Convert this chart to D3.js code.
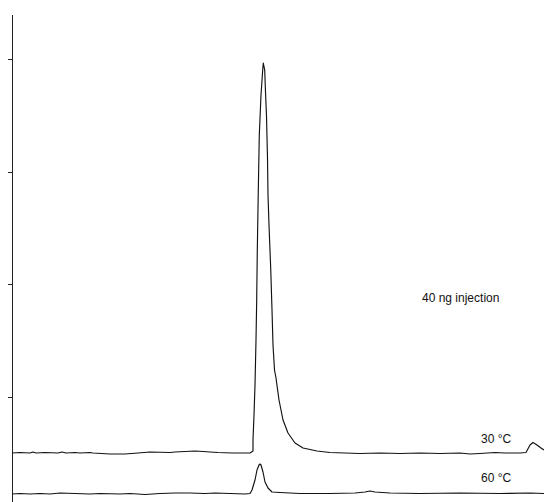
<!DOCTYPE html>
<html>
<head>
<meta charset="utf-8">
<script src="https://cdn.jsdelivr.net/npm/d3@7"></script>
<style>
  html, body { margin: 0; padding: 0; background: #fff; }
  svg { display: block; }
</style>
</head>
<body>
<div id="chart"></div>
<script>
// Retention time (min) and detector response (arbitrary units)
const time30 = [0,0.4,0.9,1.05,1.2,1.65,2.3,2.5,2.7,3.15,3.4,3.9,4.05,4.9,5.65,6.3,6.9,7.9,8.15,8.65,9.15,9.55,9.9,10.3,11,11.4,11.8,11.9,12.05,12.05,12.1,12.15,12.2,12.235,12.265,12.315,12.365,12.45,12.535,12.565,12.635,12.675,12.725,12.775,12.8,12.85,12.935,13,13.05,13.125,13.2,13.35,13.55,13.8,14.15,14.55,15.25,15.9,16.65,17.4,18.4,19.4,20.4,21.4,22.4,22.9,23.4,24.15,24.65,25.4,25.7,25.9,26.05,26.25,26.45,26.6];
const resp30 = [24.89,25.11,24.89,25.33,24.89,25.11,24.89,25.33,24.89,25.11,24.89,25.11,24.89,24.44,24.44,24.89,25.33,25.11,25.33,25.56,25.78,25.56,25.33,25.11,24.89,24.89,24.89,24.89,25.78,30.67,41.78,55.11,75.11,92.89,115.11,141.78,166.22,184,195.11,198.22,195.11,185.33,174.67,156,139.56,126.22,107.11,88.44,72.89,61.78,58.22,48.44,39.56,33.78,29.33,27.11,25.78,25.11,24.89,24.67,24.89,24.67,24.89,24.67,24.89,24.44,24.67,25.11,24.89,24.89,25.11,28.44,29.56,28.44,27.11,26.22];

const time60 = [0,0.4,0.9,1.4,1.9,2.4,3.15,3.9,4.4,5.4,5.9,6.65,7.4,8.15,8.9,9.65,10.15,10.9,11.65,11.9,12,12.15,12.25,12.35,12.4,12.45,12.55,12.65,12.8,13,13.4,14.4,15.9,17.15,17.65,17.9,18.15,18.9,20.4,22.4,24.4,25.9,26.6];
const resp60 = [6.67,6.89,6.67,6.89,6.67,7.11,6.89,6.67,6.89,6.67,6.89,6.44,6.89,7.11,7.11,6.89,7.11,6.89,6.67,6.89,8.44,12.89,17.33,19.56,20,19.56,16.44,12,9.33,7.56,7.33,6.89,6.89,7.11,7.56,8,7.56,7.11,6.89,7.11,6.89,7.11,6.89];

const yTicks = [50, 100, 150, 200];
const traceLabels = ["30 °C", "60 °C"];
const labelTime = [23.45, 23.45];
const labelResp = [29.3, 11.8];
const noteText = "40 ng injection";
const noteTime = 20.5, noteResp = 92;

const W = 544, H = 502;
const svg = d3.select("#chart").append("svg")
  .attr("width", W).attr("height", H);

const x = d3.scaleLinear().domain([0, 26.6]).range([12, 544]);
const y = d3.scaleLinear().domain([0, 220]).range([509, 14]);

// y axis (no labels)
const yAxis = d3.axisLeft(y).tickValues(yTicks).tickSize(4).tickSizeOuter(0).tickFormat("");
const gy = svg.append("g").attr("transform", `translate(${x(0)},0)`).call(yAxis);
gy.selectAll("path, line").attr("stroke", "#222").attr("stroke-width", 1).attr("shape-rendering", "crispEdges");

const line = d3.line().x(d => x(d[0])).y(d => y(d[1]));

const series = [
  d3.zip(time30, resp30),
  d3.zip(time60, resp60)
];

svg.selectAll("path.trace").data(series).join("path")
  .attr("class", "trace")
  .attr("d", line)
  .attr("fill", "none")
  .attr("stroke", "#111")
  .attr("stroke-width", 1.15)
  .attr("stroke-linejoin", "round");

svg.selectAll("text.lbl").data(traceLabels).join("text")
  .attr("class", "lbl")
  .attr("x", (d, i) => x(labelTime[i]))
  .attr("y", (d, i) => y(labelResp[i]))
  .attr("font-family", "Liberation Sans, Arial, sans-serif")
  .attr("font-size", 12)
  .attr("fill", "#111")
  .text(d => d);

svg.append("text")
  .attr("x", x(noteTime)).attr("y", y(noteResp))
  .attr("font-family", "Liberation Sans, Arial, sans-serif")
  .attr("font-size", 12)
  .attr("fill", "#111")
  .text(noteText);
</script>
</body>
</html>
